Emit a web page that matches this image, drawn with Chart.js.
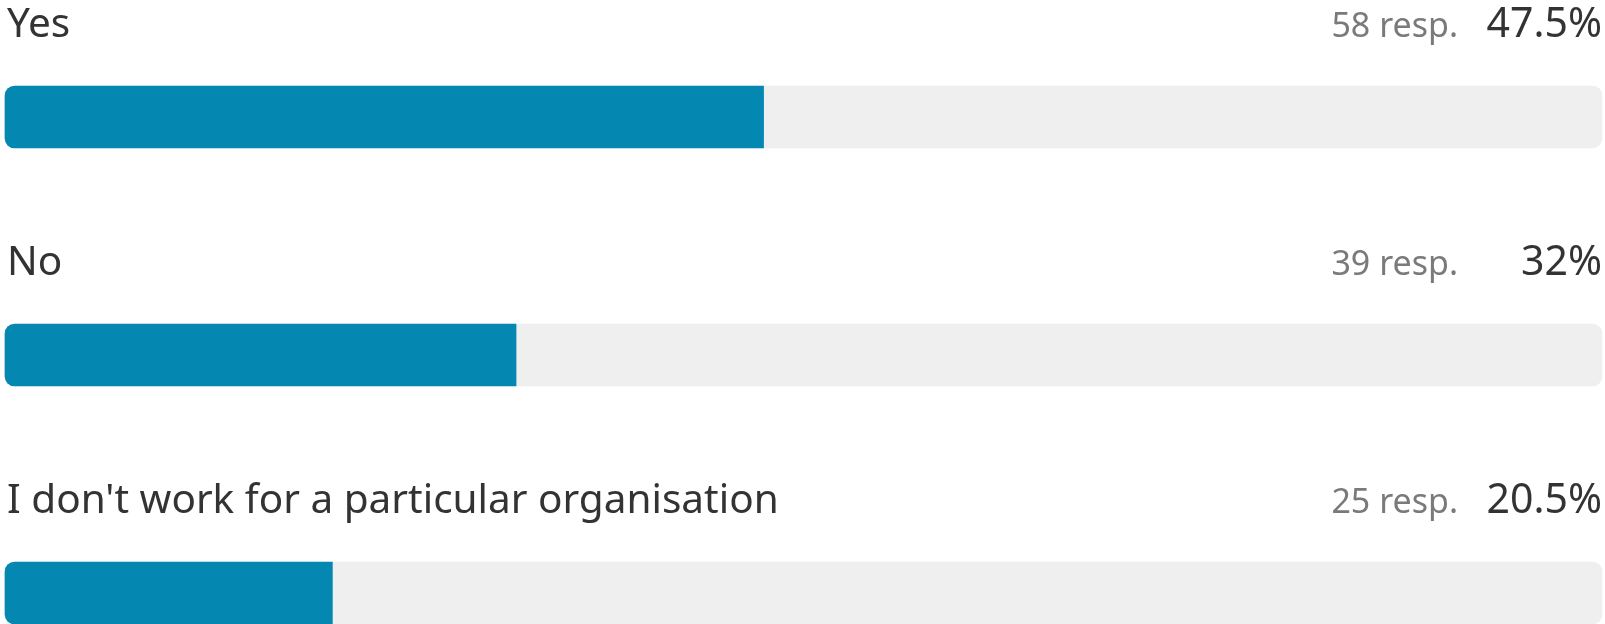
<!DOCTYPE html>
<html>
<head>
<meta charset="utf-8">
<script src="https://cdn.jsdelivr.net/npm/chart.js@4/dist/chart.umd.min.js"></script>
<style>
  html, body { margin: 0; padding: 0; background: #ffffff; }
  #wrap { width: 1605px; height: 624px; position: relative; }
</style>
</head>
<body>
<div id="wrap"><canvas id="myChart"></canvas></div>
<script>
const answers = ["Yes", "No", "I don't work for a particular organisation"];
const responses = [58, 39, 25];
const percents = [47.5, 32, 20.5];
const fullTrack = [100, 100, 100];

const ctx = document.getElementById('myChart').getContext('2d');

// labels above each bar: answer on the left, count + percent on the right
const labelPlugin = {
    id: 'rowLabels',
    afterDatasetsDraw(chart) {
        const c = chart.ctx;
        const yScale = chart.scales.y;
        const area = chart.chartArea;
        c.save();
        c.textBaseline = 'alphabetic';
        answers.forEach((name, i) => {
            const y = yScale.getPixelForValue(i) - 80;
            c.font = '40.5px "Noto Sans"';
            c.fillStyle = '#333333';
            c.textAlign = 'left';
            c.fillText(name, area.left + 2, y);

            c.font = '41px "Noto Sans"';
            c.textAlign = 'right';
            c.fillText(percents[i] + '%', area.right, y);

            c.font = '34px "Noto Sans"';
            c.fillStyle = '#7a7a7a';
            c.fillText(responses[i] + ' resp.', area.right - 144, y);
        });
        c.restore();
    }
};

const myChart = new Chart(ctx, {
    type: 'bar',
    data: {
        labels: answers,
        datasets: [{
            data: percents,
            backgroundColor: '#0487b1',
            borderSkipped: false,
            borderRadius: { topLeft: 10, bottomLeft: 10, topRight: 0, bottomRight: 0 },
            barThickness: 62,
            clip: false
        }, {
            data: fullTrack,
            backgroundColor: '#efefef',
            borderSkipped: false,
            borderRadius: 10,
            barThickness: 62,
            clip: false
        }]
    },
    options: {
        indexAxis: 'y',
        responsive: true,
        maintainAspectRatio: false,
        animation: false,
        layout: {
            padding: { left: 5, right: 3, top: 117, bottom: 31 }
        },
        datasets: {
            bar: { grouped: false }
        },
        scales: {
            x: { display: false, min: 0, max: 100 },
            y: { display: false, offset: false }
        },
        plugins: {
            legend: { display: false },
            tooltip: { enabled: false }
        }
    },
    plugins: [labelPlugin]
});
</script>
</body>
</html>
